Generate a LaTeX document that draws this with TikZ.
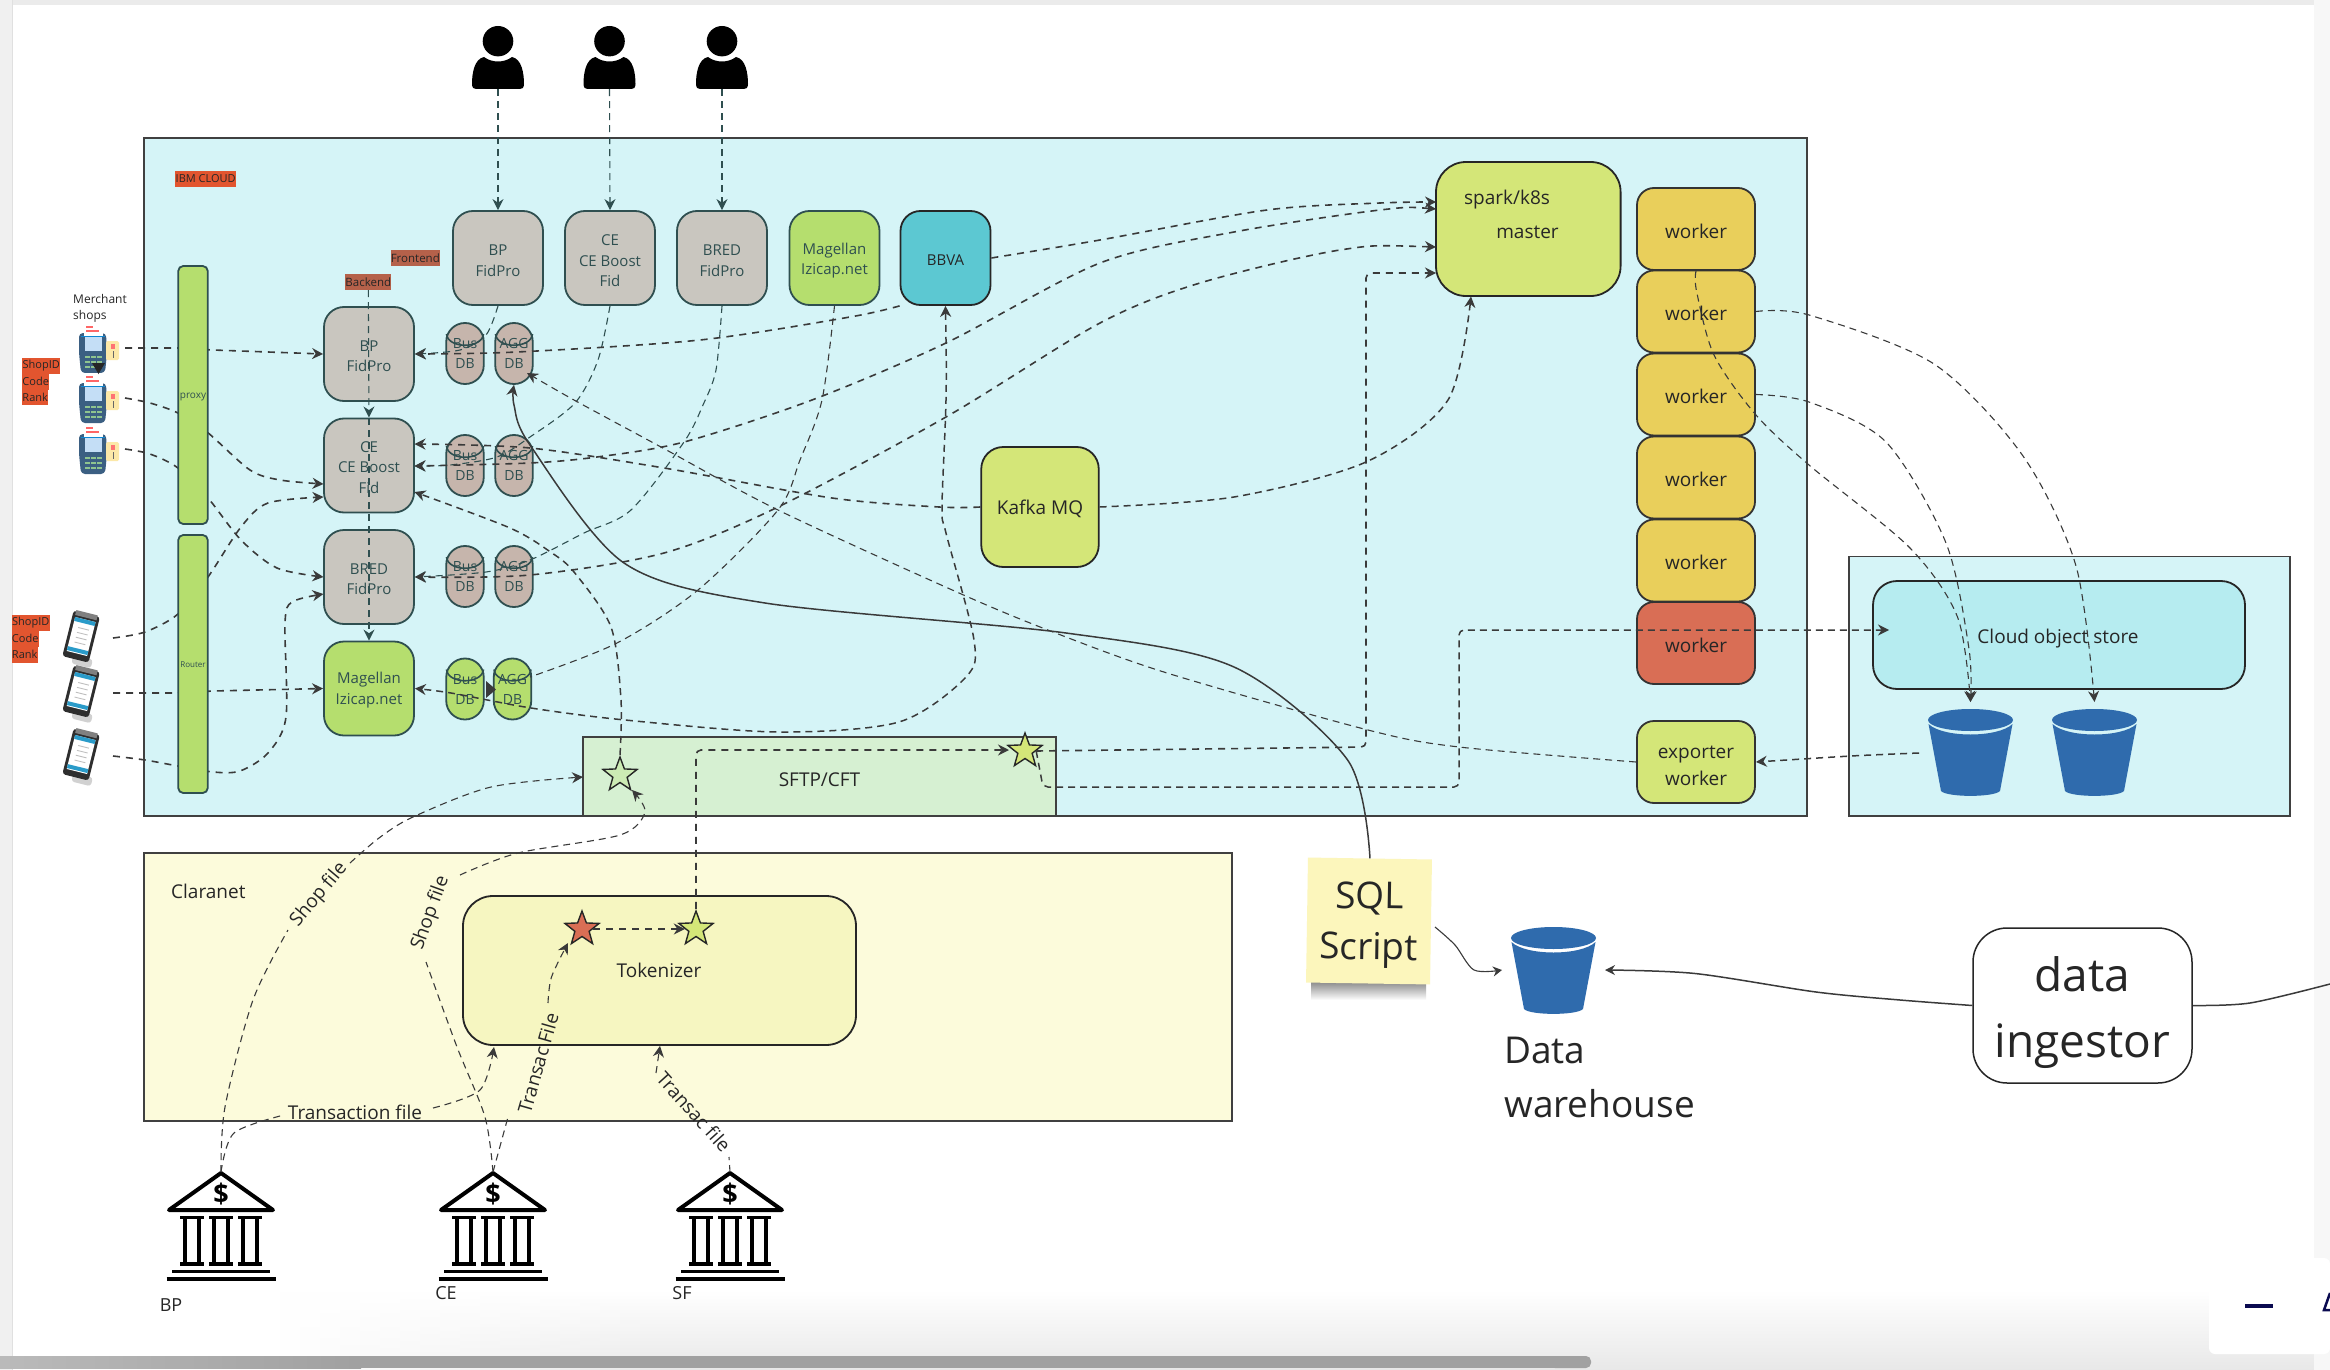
\documentclass[tikz,border=0pt]{standalone}
\usepackage{fontspec}
\setmainfont{Open Sans}
\usetikzlibrary{arrows.meta,shapes.geometric,calc}
\definecolor{cloudc}{HTML}{D5F4F7}
\definecolor{creamc}{HTML}{FCFBDB}
\definecolor{tokc}{HTML}{F6F6C1}
\definecolor{sftpc}{HTML}{D6F0D2}
\definecolor{grayb}{HTML}{C9C6BF}
\definecolor{dbc}{HTML}{C6B5AC}
\definecolor{greenb}{HTML}{B5DE6E}
\definecolor{tealb}{HTML}{5CC8D2}
\definecolor{sparkc}{HTML}{D4E678}
\definecolor{workc}{HTML}{E9CF5B}
\definecolor{redw}{HTML}{D96E55}
\definecolor{storec}{HTML}{B6ECF0}
\definecolor{bluek}{HTML}{2F6BAD}
\definecolor{edgeb}{HTML}{2F4F50}
\definecolor{linec}{HTML}{3A3A3A}
\definecolor{tagr}{HTML}{E2552F}
\definecolor{tagb}{HTML}{B5614A}
\definecolor{notec}{HTML}{FCF6BC}
\definecolor{navyc}{HTML}{0A0A50}
\definecolor{posbody}{HTML}{3B5F82}
\definecolor{posscreen}{HTML}{C4DEF6}
\definecolor{poskey}{HTML}{8FC48F}
\definecolor{poscard}{HTML}{FCE8A8}
\pgfdeclarelayer{bottom}
\pgfdeclarelayer{behind}
\pgfsetlayers{bottom,behind,main}
\newcommand\tup[1]{\rule{0pt}{#1}}
\tikzset{
  lower/.style={execute at begin node={\rule{0pt}{1em}}},
  basebox/.style={lower,draw=edgeb,line width=1.8pt,align=center,inner sep=0pt,text=black!85},
  fe/.style={basebox,minimum width=90pt,minimum height=94pt,rounded corners=20pt,font=\fontsize{15}{20.6}\selectfont,text=edgeb},
  wk/.style={basebox,draw=black!80,minimum width=118pt,minimum height=82pt,rounded corners=17pt,fill=workc,font=\fontsize{19}{26.6}\selectfont},
  bar/.style={basebox,minimum width=29.5pt,minimum height=258pt,rounded corners=5pt,fill=greenb,text=edgeb},
  area/.style={draw=black!75,line width=1.6pt,inner sep=0pt},
  plain/.style={inner sep=0pt,align=center,text=black!85},
  big/.style={plain,lower,font=\fontsize{19}{26.6}\selectfont},
  dbshape/.style={draw=edgeb,line width=1.8pt,align=center,inner sep=0pt,minimum width=37.5pt,minimum height=61pt,rounded corners=18.7pt,font=\fontsize{14}{20}\selectfont,text=edgeb},
  redtag/.style={inner sep=0pt,anchor=west,minimum height=16pt,fill=tagr,text=black!85,font=\fontsize{11}{11}\selectfont},
  browntag/.style={inner sep=0pt,minimum height=16pt,fill=tagb,text=black!85,font=\fontsize{11.5}{12}\selectfont},
  stardot/.style={star,star points=5,star point ratio=2.4,minimum size=36pt,inner sep=0pt,draw=black!85,line width=1.4pt},
  flow/.style={draw=linec,line width=1.6pt,dash pattern=on 7pt off 6pt},
  fine/.style={draw=linec,line width=1.1pt,dash pattern=on 7pt off 5pt},
  tip/.style={-{Stealth[length=11pt,width=11pt]}},
  tips/.style={{Stealth[length=11pt,width=11pt]}-{Stealth[length=11pt,width=11pt]}},
  solidline/.style={draw=linec,line width=1.5pt}
}
\newcommand\personicon[3]{%
  \node[inner sep=0pt,minimum width=52pt,minimum height=64pt] (#1) at (#2,#3) {};
  \begin{scope}[shift={(#2,#3-31)}]
    \fill[black] (0,15.2) ellipse (15.3 and 15.2);
    \fill[black] (-14,31) .. controls (-6,37) and (6,37) .. (14,31) .. controls (24,33) and (26,48) .. (26,58) .. controls (26,62) and (24,63) .. (22,63) -- (-22,63) .. controls (-24,63) and (-26,62) .. (-26,58) .. controls (-26,48) and (-24,33) .. (-14,31) -- cycle;
  \end{scope}}
\newcommand\bankicon[3]{%
  \coordinate (#1) at (#2,#3);
  \begin{scope}[shift={(#2,#3)},line width=4pt,black]
    \draw[line join=round] (0,1) -- (-52,38) -- (52,38) -- cycle;
    \foreach \cx in {-29,0,29}{
      \draw[line width=3.2pt] (\cx-12,45.5) -- (\cx+12,45.5);
      \draw[line width=3.2pt] (\cx-12,92) -- (\cx+12,92);
      \draw[line width=3.2pt] (\cx-7,46) -- (\cx-7,92) (\cx+7,46) -- (\cx+7,92);
    }
    \draw[line width=3.2pt] (-49,99.5) -- (49,99.5);
    \draw[line width=3.2pt] (-54.5,107) -- (54.5,107);
    \node[inner sep=0pt,font=\fontsize{27}{27}\selectfont\bfseries] at (0,22) {\$};
  \end{scope}}
\newcommand\bucketicon[3]{%
  \begin{scope}[shift={(#2,#3)},scale=#1]
    \fill[bluek] (42.5,11) ellipse (42.5 and 11);
    \fill[bluek] (0.5,15) .. controls (15,29) and (70,29) .. (84.5,15) -- (72,82) .. controls (66,88.5) and (19,88.5) .. (13,82) -- cycle;
  \end{scope}}
\newcommand\posicon[2]{%
  \begin{scope}[shift={(#1,#2)}]
    \fill[posbody,rounded corners=4pt] (0,10) -- (27,10) -- (28,30) -- (26,50) -- (2,50) -- (0,30) -- cycle;
    \fill[white] (5,0) rectangle (24,13);
    \fill[red!60] (7,3) rectangle (14,5);
    \fill[red!60] (7,7) rectangle (20,9);
    \fill[cyan!70!blue] (2,13) rectangle (26,14.3);
    \fill[posscreen] (6,14.3) rectangle (23,28);
    \foreach \kx in {6,12,18}{\foreach \ky in {33,38,43}{\fill[poskey] (\kx,\ky) rectangle (\kx+4.5,\ky+2);}}
    \fill[poscard,rounded corners=1.5pt] (27,18) rectangle (40,37);
    \fill[red!55] (32,21) rectangle (36,26);
    \fill[black!60] (33.5,28) rectangle (34.5,35);
  \end{scope}}
\newcommand\phoneicon[2]{%
  \begin{scope}[shift={(#1,#2)},rotate=-14]
    \fill[black!18,rounded corners=3pt] (-3,19) rectangle (17,28);
    \fill[black!82,rounded corners=3pt] (-13.5,-24) rectangle (13.5,23);
    \fill[black!50] (-11,-25) rectangle (11,-20);
    \fill[white] (-10.5,-18) rectangle (10.5,17);
    \fill[cyan!60!teal] (-10.5,-18) rectangle (10.5,-14);
    \fill[cyan!60!teal] (-10.5,12) rectangle (10.5,16);
    \foreach \py in {-9,-4,1,6}{\fill[black!25] (-5,\py) rectangle (6,\py+0.9);}
  \end{scope}}
\newcommand\dbnode[5]{%
  \node[dbshape,fill=#4] (#1) at (#2,#3+30.5) {#5};
  \draw[edgeb,line width=1.6pt] (#2-18.5,#3+11) .. controls (#2-17,#3+26) and (#2+17,#3+26) .. (#2+18.5,#3+11);}
\begin{document}
\begin{tikzpicture}[x=1pt,y=-1pt]
\useasboundingbox (0,0) rectangle (2330,1370);
\begin{pgfonlayer}{bottom}
  \fill[white] (0,0) rectangle (2330,1370);
  \shade[top color=white,bottom color=black!9,draw=none] (0,1290) rectangle (2330,1370);
  \fill[white] (0,1290) rectangle (260,1370);
  \foreach \i in {0,...,19}{\fill[white,fill opacity={1-\i/20}] (260+\i*20,1290) rectangle (280+\i*20,1370);}
  \fill[black!8] (0,0) rectangle (2330,5);
  \fill[black!6] (0,0) rectangle (12,1370);
  \draw[black!12,line width=0.8pt] (12.5,0) -- (12.5,1370);
  \fill[black!3] (2314,0) rectangle (2330,1370);
  \shade[left color=black!27,right color=black!37] (0,1356) rectangle (361,1368);
  \fill[black!37] (360,1356) rectangle (1570,1368);
  \fill[black!37,rounded corners=5pt] (1550,1356) rectangle (1591,1368);
  \fill[white,rounded corners=6pt] (2209,1258) rectangle (2330,1354);
  \draw[navyc,line width=4pt] (2245,1306) -- (2273,1306);
  \draw[navyc,line width=2.5pt] (2330,1293) -- (2324,1310) -- (2330,1310);
  \node[area,fill=cloudc,minimum width=1663pt,minimum height=678pt] (cloud) at (975.5,477) {};
  \node[area,fill=cloudc,minimum width=441pt,minimum height=259.5pt] (cos) at (2069.5,686.2) {};
  \node[area,fill=creamc,minimum width=1088pt,minimum height=268pt] (claranet) at (688,987) {};
  \node[area,fill=sftpc,minimum width=473pt,minimum height=79pt] (sftp) at (819.5,776.5) {};
\end{pgfonlayer}

% area labels
\node[big,anchor=west] (clarlbl) at (171,889) {Claranet};
\node[big] (sftplbl) at (819.5,777) {SFTP/CFT};
\node[redtag,minimum width=61pt] (ibmtag) at (175,179) {IBM CLOUD};
\node[browntag,minimum width=47.5pt] (fronttag) at (415.3,258) {Frontend};
\node[browntag,minimum width=44.6pt] (backtag) at (368.3,282) {Backend};

% people and front-ends
\personicon{u1}{498}{57}
\personicon{u2}{609.5}{57}
\personicon{u3}{722}{57}
\node[fe,fill=grayb] (bpf) at (498,258) {\tup{1.1em}BP\\FidPro};
\node[fe,fill=grayb] (cef) at (610,258) {\tup{1.1em}CE\\CE Boost\\Fid};
\node[fe,fill=grayb] (bredf) at (722,258) {\tup{1.1em}BRED\\FidPro};
\node[fe,fill=greenb] (magf) at (834.5,258) {\tup{1.1em}Magellan\\Izicap.net};
\node[fe,fill=tealb,draw=black!85,text=black!85] (bbva) at (945.5,258) {BBVA};

% back-ends
\node[fe,fill=grayb] (bpb) at (369,354) {\tup{1em}BP\\FidPro};
\node[fe,fill=grayb] (ceb) at (369,465.5) {\tup{1em}CE\\CE Boost\\Fid};
\node[fe,fill=grayb] (bredb) at (369,577) {\tup{1em}BRED\\FidPro};
\node[fe,fill=greenb] (magb) at (369,688.5) {\tup{1em}Magellan\\Izicap.net};
\dbnode{bus1}{465}{323}{dbc}{Bus\\DB}
\dbnode{agg1}{514}{323}{dbc}{AGG\\DB}
\dbnode{bus2}{465}{435}{dbc}{Bus\\DB}
\dbnode{agg2}{514}{435}{dbc}{AGG\\DB}
\dbnode{bus3}{465}{546}{dbc}{Bus\\DB}
\dbnode{agg3}{514}{546}{dbc}{AGG\\DB}
\dbnode{bus4}{465}{658.5}{greenb}{Bus\\DB}
\dbnode{agg4}{512.5}{658.5}{greenb}{AGG\\DB}

% bars
\node[bar,font=\fontsize{10}{10}\selectfont] (proxy) at (193,395) {proxy};
\node[bar,font=\fontsize{8}{8}\selectfont] (router) at (193,664) {Router};

% left-hand devices and tags
\node[plain,align=left,anchor=north west,font=\fontsize{12}{16}\selectfont] (shops) at (73,294) {Merchant\\shops};
\posicon{79}{323}
\posicon{79}{373}
\posicon{79}{424}
\coordinate (pos1) at (125,348);
\coordinate (pos2) at (125,398);
\coordinate (pos3) at (125,449);
\fill[black!85] (92,363) -- (105,363) -- (98.5,374) -- cycle;
\phoneicon{81}{637}
\phoneicon{81}{692}
\phoneicon{81}{755}
\coordinate (ph1) at (113,638);
\coordinate (ph2) at (113,693);
\coordinate (ph3) at (113,756);
\node[redtag,minimum width=38pt] (ta1) at (22,365.5) {ShopID};
\node[redtag,minimum width=27pt] (ta2) at (22,381.5) {Code};
\node[redtag,minimum width=26pt] (ta3) at (22,397) {Rank};
\node[redtag,minimum width=38pt] (tb1) at (11.5,622.5) {ShopID};
\node[redtag,minimum width=27pt] (tb2) at (11.5,638.5) {Code};
\node[redtag,minimum width=26pt] (tb3) at (11.5,654.5) {Rank};

% Spark
\node[fe,draw=black!85,fill=sparkc,minimum width=184.6pt,minimum height=134pt,rounded corners=30pt] (spark) at (1528.3,229) {};
\node[big] (sparkt1) at (1507,197.5) {spark/k8s};
\node[big] (sparkt2) at (1527.5,229) {master};
\node[wk] (w1) at (1696,229) {worker};
\node[wk] (w2) at (1696,311.5) {worker};
\node[wk] (w3) at (1696,394.5) {worker};
\node[wk] (w4) at (1696,477.5) {worker};
\node[wk] (w5) at (1696,560.5) {worker};
\node[wk,fill=redw] (w6) at (1696,643) {worker};
\node[wk,fill=sparkc] (expw) at (1696,762) {\tup{1.08em}exporter\\worker};
\node[fe,draw=black!85,fill=sparkc,minimum width=117.5pt,minimum height=120pt,rounded corners=22pt,text=black!85,font=\fontsize{19}{26}\selectfont] (kafka) at (1040,507) {Kafka MQ};

% object store
\node[fe,draw=black!85,fill=storec,minimum width=372pt,minimum height=108pt,rounded corners=24pt] (store) at (2059,635) {};
\node[big] (storet) at (2058,636) {Cloud object store};
\bucketicon{1}{1928}{709}
\bucketicon{1}{2052}{709}
\coordinate (bk1t) at (1970.5,702);
\coordinate (bk2t) at (2094.5,702);
\coordinate (bk1w) at (1919,753);

% stars
\node[stardot,fill=sftpc!70!greenb] (s1) at (620,775) {};
\node[stardot,fill=sparkc] (s2) at (1025,751) {};

% Claranet
\node[fe,draw=black!85,fill=tokc,minimum width=393pt,minimum height=149pt,rounded corners=30pt] (tok) at (659.5,970.5) {};
\node[big] (tokt) at (659,968) {Tokenizer};
\node[stardot,fill=redw] (s3) at (582,929) {};
\node[stardot,fill=sparkc] (s4) at (696,929) {};

% banks
\bankicon{b1}{221}{1172}
\bankicon{b2}{493}{1172}
\bankicon{b3}{730}{1172}
\node[plain,font=\fontsize{18}{18}\selectfont] (bl1) at (171,1305) {BP};
\node[plain,font=\fontsize{18}{18}\selectfont] (bl2) at (446,1293) {CE};
\node[plain,font=\fontsize{18}{18}\selectfont] (bl3) at (682,1293) {SF};

% sql, warehouse, ingestor
\shade[top color=black!45,bottom color=white] (1311,982) rectangle (1426,1000);
\node[rotate=-0.9,fill=notec,minimum width=124pt,minimum height=125pt,inner sep=0pt,align=center,text=black!85,font=\fontsize{37}{51}\selectfont] (sql) at (1369,921) {\tup{0.95em}SQL\\Script};
\bucketicon{1}{1511}{927}
\coordinate (dww) at (1502,970);
\coordinate (dwe) at (1605,970);
\node[plain,align=left,anchor=north west,font=\fontsize{37}{54}\selectfont] (dwl) at (1504,1037) {Data\\warehouse};
\node[fe,draw=black!85,fill=white,minimum width=219pt,minimum height=155pt,rounded corners=34pt,text=black!85,font=\fontsize{46}{66}\selectfont,line width=1.5pt] (ing) at (2082.5,1005.5) {\tup{1.08em}data\\ingestor};

% ports
\coordinate (ceE1) at (414.5,444);
\coordinate (ceE2) at (414.5,466);
\coordinate (ceE3) at (414.5,492);
\coordinate (ceW1) at (323.5,484);
\coordinate (ceW2) at (323.5,497);
\coordinate (brW1) at (323.5,577);
\coordinate (brW2) at (323.5,594);
\coordinate (spW1) at (1436,202);
\coordinate (spW2) at (1436,209);
\coordinate (spW3) at (1436,247);
\coordinate (spW4) at (1436,273);
\coordinate (spS) at (1471,296.5);
\coordinate (sftpW) at (583,777);
\coordinate (agg1a) at (527,373);
\coordinate (storeW) at (1889,630);

% connectors behind the bars
\begin{pgfonlayer}{behind}
  \draw[flow,tip] (pos1) -- (178,348) -- (213,350) -- (bpb.west);
  \draw[flow,tip] plot[smooth] coordinates {(pos2) (150,403) (178,413) (207,432) (250,470) (280,480) (ceW1)};
  \draw[flow,tip] plot[smooth] coordinates {(pos3) (150,454) (178,468) (208,498) (241,540) (277,568) (brW1)};
  \draw[flow,tip] plot[smooth] coordinates {(ph1) (145,632) (178,614) (208,577) (241,527) (268,503) (ceW2)};
  \draw[flow,tip] (ph2) -- (178,693) -- (213,691) -- (magb.west);
  \draw[flow,tip] plot[smooth] coordinates {(ph3) (145,760) (178,766) (213,772) (240,771) (268,753) (286,717) (285,623) (292,602) (brW2)};
\end{pgfonlayer}

% people to front-ends
\draw[fine,draw=edgeb,tip] (u1.south) -- (bpf.north);
\draw[fine,draw=edgeb,tip] (u2.south) -- (cef.north);
\draw[fine,draw=edgeb,tip] (u3.south) -- (bredf.north);

% back-end vertical links
\draw[fine,draw=edgeb,tip] (backtag.south) -- (369,417.5);
\draw[fine,draw=edgeb,tip] (369,418) -- (magb.north);

% front-ends to back-ends
\draw[fine,draw=edgeb,tip] plot[smooth] coordinates {(bpf.south) (486,335) (460,350) (bpb.east)};
\draw[fine,draw=edgeb,tip] plot[smooth] coordinates {(cef.south) (598,360) (575,403) (530,437) (497,457) (450,465) (ceE2)};
\draw[fine,draw=edgeb,tip] plot[smooth] coordinates {(bredf.south) (716,370) (703,405) (684,442) (631,510) (584,533) (530,560) (486,572) (bredb.east)};
\draw[fine] plot[smooth] coordinates {(magf.south) (822,400) (800,460) (778,510) (698,590) (617,643) (530,677)};
\fill[linec] (486,681) -- (496,689.5) -- (486,698) -- cycle;

% BBVA
\draw[flow,tip] plot[smooth] coordinates {(bbva.south west) (850,317) (700,340) (517,352) (bpb.east)};
\draw[fine,draw=linec,line width=1.5pt,tips] plot[smooth] coordinates {(bbva.south) (946,400) (942,507) (946,533) (974,640) (966,677) (899,722) (778,732) (625,720) (531,708) (451,693) (magb.east)};
\draw[flow,tip] plot[smooth] coordinates {(bbva.east) (1100,240) (1267,210) (1380,203) (spW1)};
% AGG to spark
\draw[flow,tips] plot[smooth] coordinates {(spW2) (1380,210) (1234,232) (1100,263) (946,343) (812,400) (684,442) (597,457) (530,463) (ceE2)};
\draw[flow,tips] plot[smooth] coordinates {(spW3) (1340,250) (1200,283) (1100,323) (946,417) (778,507) (664,553) (530,575) (bredb.east)};
% Kafka
\draw[flow,tip] plot[smooth] coordinates {(kafka.west) (939,507) (832,498) (664,468) (530,448) (ceE1)};
\draw[fine,line width=1.5pt,tip] plot[smooth] coordinates {(kafka.east) (1234,497) (1366,462) (1448,400) (spS)};
% star 1 to CE
\draw[fine,line width=1.5pt,tip] plot[smooth] coordinates {(s1.north) (621,700) (611,627) (574,572) (550.5,552) (510,528) (ceE3)};
% exporter to AGG
\draw[fine,tip] plot[smooth] coordinates {(expw.west) (1459,747) (1368,730) (1167,673) (1053,632) (959,593) (778,510) (661,447) (574,400) (agg1a)};
% SFTP star links
\draw[flow,tip,rounded corners=5pt] (s2.east) -- (1366,747) -- (1366,273) -- (spW4);
\draw[fine,line width=1.5pt,tip,rounded corners=5pt] (s2.east) -- (1043,787) -- (1459,787) -- (1459,630) -- (storeW);
\draw[flow,tip,rounded corners=5pt] (s4.north) -- (696,750) -- (1009,750);
\draw[flow,tip] (s3.east) -- (s4.west);
% workers to buckets
\draw[fine,tip] plot[smooth] coordinates {(w1.south) (1696.5,291) (1714,355) (1756,415) (1809,465) (1910,548) (1957.5,617) (bk1t)};
\draw[fine,tip] plot[smooth] coordinates {(w2.east) (1809,315) (1934,364) (2023,456) (2076,566) (bk2t)};
\draw[fine,tip] plot[smooth] coordinates {(w3.east) (1809,402) (1886,442) (1946,543) (1969,649) (bk1t)};
\draw[fine,line width=1.5pt,tip] plot[smooth] coordinates {(bk1w) (1851,756) (expw.east)};
% solid lines
\draw[solidline,tip] plot[smooth] coordinates {(sql.north) (1347.6,760) (1234,667) (1066,633) (765,603) (624,563) (530,445) (514,405) (agg1.south)};
\draw[solidline,line width=1.1pt,-{Stealth[length=9pt,width=10pt]}] plot[smooth] coordinates {(1435,927) (1455,945) (1474,970) (dww)};
\draw[solidline,-{Stealth[length=10pt,width=10pt]}] plot[smooth] coordinates {(ing.west) (1900,1000) (1816,992) (1695,973.5) (dwe)};
\coordinate (offr) at (2330,984);
\draw[solidline] plot[smooth] coordinates {(ing.east) (2250,1003) (offr)};

% bank files with labelled gaps
\draw[fine] plot[smooth] coordinates {(b1) (225,1107) (253,1000) (288,930)};
\node[plain,rotate=50,font=\fontsize{19}{19}\selectfont] (lsf1) at (319,895) {Shop file};
\draw[fine,tip] plot[smooth] coordinates {(350,863) (379,838) (413,817) (491,787) (sftpW)};
\draw[fine] plot[smooth] coordinates {(b2) (485,1117) (457,1047) (426,962)};
\node[plain,rotate=70,font=\fontsize{19}{19}\selectfont] (lsf2) at (430.6,913) {Shop file};
\draw[fine,tip] plot[smooth] coordinates {(460,875) (518,853) (620,835) (645,812) (632,790)};
\draw[fine] plot[smooth] coordinates {(b1) (234,1133) (284,1115)};
\node[plain,font=\fontsize{19}{19}\selectfont] (ltr) at (355,1112) {Transaction file};
\draw[fine,tip] plot[smooth] coordinates {(433,1108) (480,1090) (494,1047)};
\draw[fine] plot[smooth] coordinates {(b2) (508,1117)};
\node[plain,rotate=74,font=\fontsize{19}{19}\selectfont] (ltf) at (538,1063) {Transac File};
\draw[fine,tip] plot[smooth] coordinates {(548,1003) (551.5,977) (568,943)};
\draw[fine] (b3) -- (729,1157);
\node[plain,rotate=-48,font=\fontsize{19}{19}\selectfont] (ltf2) at (694,1112) {Transac file};
\draw[fine,tip] plot[smooth] coordinates {(656,1073) (tok.south -| 660,0)};
\end{tikzpicture}
\end{document}
